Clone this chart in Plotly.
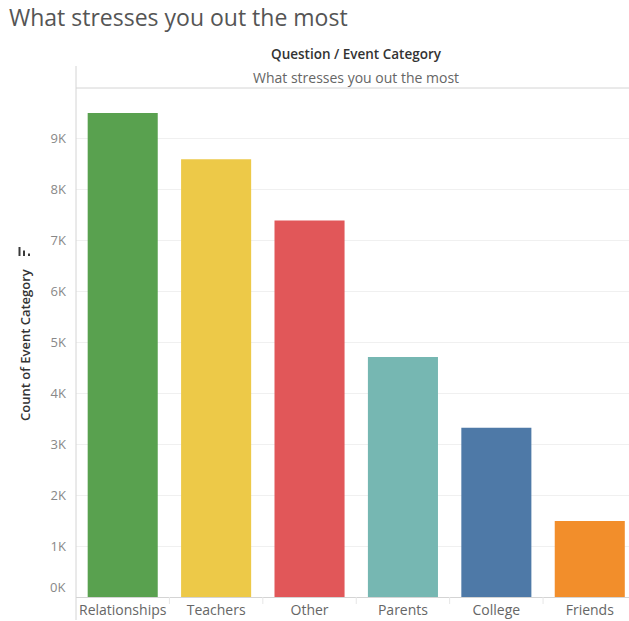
import plotly.graph_objects as go

# Survey answers: what stresses students out the most
categories = ["Relationships", "Teachers", "Other", "Parents", "College", "Friends"]
counts = [9500, 8590, 7390, 4710, 3320, 1490]
bar_colors = ["#59a14f", "#edc948", "#e15759", "#76b7b2", "#4e79a7", "#f28e2b"]
y_tick_values = [1000, 2000, 3000, 4000, 5000, 6000, 7000, 8000, 9000]
y_tick_labels = ["1K", "2K", "3K", "4K", "5K", "6K", "7K", "8K", "9K"]

W, H = 629, 621
ML, MR, MT, MB = 76, 0, 88, 24
PW, PH = W - ML - MR, H - MT - MB

def px(x):
    return (x - ML) / PW

def py(y):
    return (H - MB - y) / PH

FONT = "Open Sans, sans-serif"
GRID = "#f0f0f0"
AXIS = "#d4d4d4"
TICK_FONT = dict(family=FONT, size=13, color="#888888")

fig = go.Figure(
    go.Bar(
        x=categories,
        y=counts,
        marker=dict(color=bar_colors, line=dict(width=0)),
        width=0.75,
        hovertemplate="%{x}: %{y}<extra></extra>",
    )
)

shapes = [
    # header rule and left frame line
    dict(type="line", xref="paper", yref="paper", x0=0, x1=1, y0=py(88), y1=py(88),
         line=dict(color=AXIS, width=1)),
    dict(type="line", xref="paper", yref="paper", x0=0, x1=0, y0=py(66), y1=py(620),
         line=dict(color=AXIS, width=1)),
]
# category separators below the baseline
for k in range(len(categories)):
    shapes.append(dict(type="line", xref="x", yref="paper", x0=k + 0.5, x1=k + 0.5,
                       y0=0, y1=py(604), line=dict(color="#e6e6e6", width=1)))
# sort icon next to the axis title
for x0, x1, y0 in [(18.5, 20.5, 247), (23, 25, 250.5), (28, 30, 253.5)]:
    shapes.append(dict(type="rect", xref="paper", yref="paper", x0=px(x0), x1=px(x1),
                       y0=py(256), y1=py(y0), fillcolor="#3a3a3a", line=dict(width=0)))

annotations = [
    dict(text="What stresses you out the most", xref="paper", yref="paper",
         x=px(7), y=py(17), xanchor="left", yanchor="middle", showarrow=False,
         font=dict(family=FONT, size=23, color="#555555")),
    dict(text="Question / Event Category", xref="paper", yref="paper",
         x=px(356), y=py(54), xanchor="center", yanchor="middle", showarrow=False,
         font=dict(family=FONT, size=13.5, color="#333333", weight=600)),
    dict(text="What stresses you out the most", xref="paper", yref="paper",
         x=px(356), y=py(77), xanchor="center", yanchor="middle", showarrow=False,
         font=dict(family=FONT, size=14, color="#666666")),
    dict(text="Count of Event Category", xref="paper", yref="paper",
         x=px(25), y=py(345), xanchor="center", yanchor="middle", showarrow=False,
         textangle=-90, font=dict(family=FONT, size=13, color="#333333", weight=600)),
    # baseline label sits just above the axis line
    dict(text="0K", xref="paper", yref="paper",
         x=px(67), y=py(587), xanchor="right", yanchor="middle", showarrow=False,
         font=TICK_FONT),
]

fig.update_layout(
    width=W, height=H,
    margin=dict(l=ML, r=MR, t=MT, b=MB, pad=0),
    paper_bgcolor="white", plot_bgcolor="white",
    showlegend=False,
    bargap=0.25,
    shapes=shapes,
    annotations=annotations,
    font=dict(family=FONT),
)
fig.update_xaxes(
    range=[-0.5, 5.42],
    showgrid=False, zeroline=False,
    showline=True, linecolor=AXIS, linewidth=1,
    ticks="", tickfont=dict(family=FONT, size=14, color="#666666"),
    fixedrange=True,
)
fig.update_yaxes(
    range=[0, 9990],
    tickvals=y_tick_values, ticktext=y_tick_labels,
    showgrid=True, gridcolor=GRID, gridwidth=1,
    zeroline=False, showline=False,
    ticks="", ticklabelstandoff=9,
    tickfont=TICK_FONT,
    fixedrange=True,
)

fig.write_html("out.html")
